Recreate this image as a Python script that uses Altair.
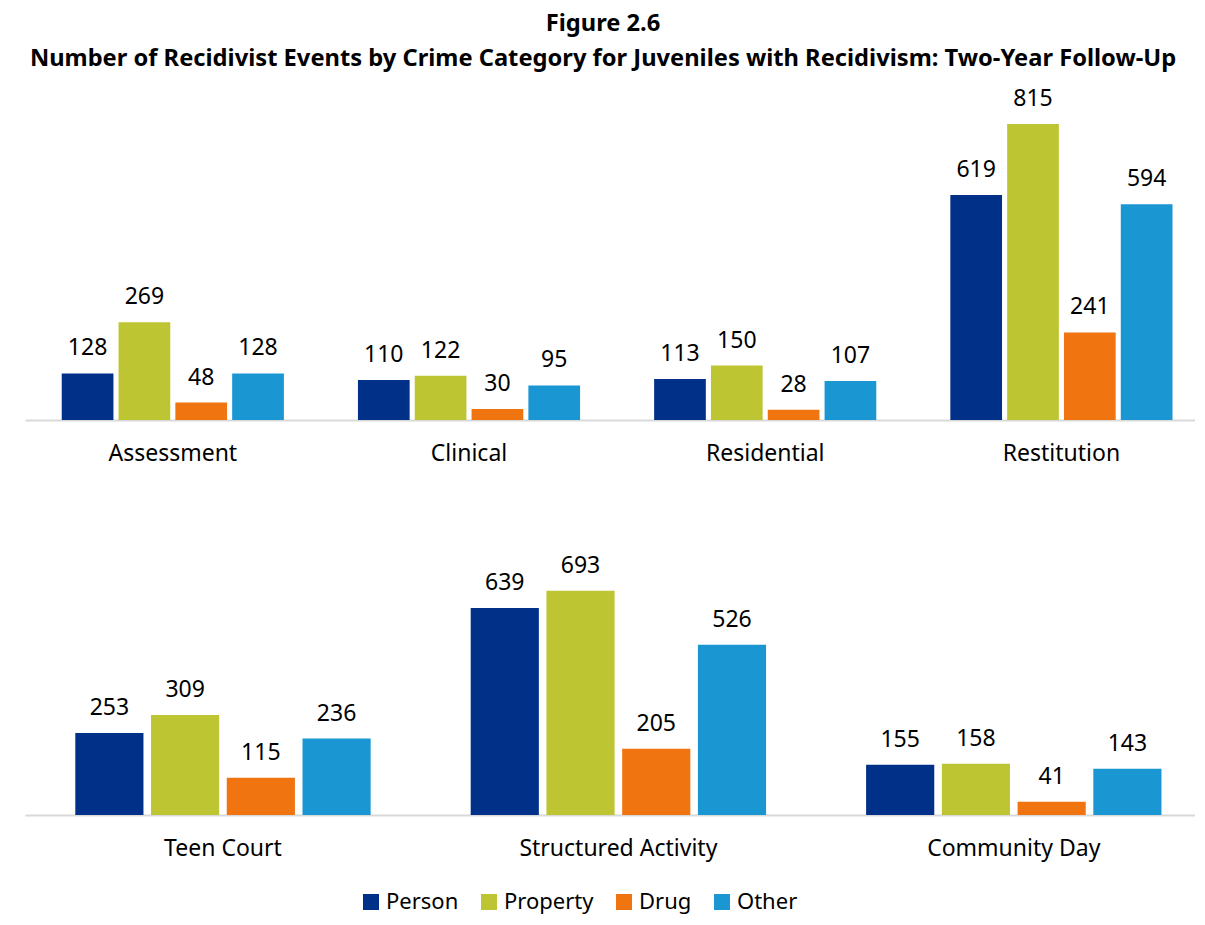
import altair as alt
import pandas as pd

categories = ["Person", "Property", "Drug", "Other"]
colors = ["#003087", "#BDC632", "#F07511", "#1A96D3"]

groups_top = ["Assessment", "Clinical", "Residential", "Restitution"]
person_top = [128, 110, 113, 619]
property_top = [269, 122, 150, 815]
drug_top = [48, 30, 28, 241]
other_top = [128, 95, 107, 594]

groups_bottom = ["Teen Court", "Structured Activity", "Community Day"]
person_bottom = [253, 639, 155]
property_bottom = [309, 693, 158]
drug_bottom = [115, 205, 41]
other_bottom = [236, 526, 143]


def build(groups, series):
    rows = []
    for i, g in enumerate(groups):
        for c, vals in zip(categories, series):
            rows.append({"group": g, "category": c, "value": vals[i]})
    return pd.DataFrame(rows)


df_top = build(groups_top, [person_top, property_top, drug_top, other_top])
df_bottom = build(groups_bottom, [person_bottom, property_bottom, drug_bottom, other_bottom])

FONT = "Noto Sans"


def panel(df, groups, ymax, height, pin, pout, align, inner):
    base = alt.Chart(df).encode(
        x=alt.X("group:N", sort=groups, title=None,
                scale=alt.Scale(paddingInner=pin, paddingOuter=pout, align=align),
                axis=alt.Axis(labelAngle=0, ticks=False, domainColor="#d9d9d9",
                              domainWidth=2, labelFontSize=23, labelFont=FONT,
                              labelColor="#000000", labelPadding=22, labelLimit=0)),
        xOffset=alt.XOffset("category:N", sort=categories,
                            scale=alt.Scale(paddingInner=inner, paddingOuter=0)),
        y=alt.Y("value:Q", scale=alt.Scale(domain=[0, ymax]), axis=None),
    )
    bars = base.mark_bar().encode(
        color=alt.Color("category:N", sort=categories,
                        scale=alt.Scale(domain=categories, range=colors),
                        legend=alt.Legend(title=None, orient="none", direction="horizontal",
                                          legendX=335, legendY=798, padding=0,
                                          symbolType="square", symbolSize=256,
                                          symbolStrokeWidth=0, labelFontSize=22,
                                          labelFont=FONT, labelColor="#000000",
                                          columnPadding=19, labelOffset=4))
    )
    text = base.mark_text(baseline="bottom", dy=-13, fontSize=23, font=FONT,
                          color="#000000").encode(text="value:Q")
    return (bars + text).properties(width=1170, height=height)


top = panel(df_top, groups_top, 900, 327, 0.25, 0.1, 0.62, 0.09)
bottom = panel(df_bottom, groups_bottom, 800, 259, 0.253, 0.106, 0.6, 0.1)

chart = alt.vconcat(top, bottom, spacing=89).resolve_scale(
    x="independent", y="independent", xOffset="independent", color="shared"
).properties(
    title=alt.TitleParams(
        text=["Figure 2.6",
              "Number of Recidivist Events by Crime Category for Juveniles with Recidivism: Two-Year Follow-Up"],
        anchor="middle", fontSize=23.7, font=FONT, fontWeight="bold", color="#000000",
        lineHeight=35, offset=17, dx=-7),
    padding={"left": 17, "top": 4, "right": 0, "bottom": 4},
).configure_view(stroke=None)

chart.save("out.html", embed_options={"renderer": "svg", "actions": False})
